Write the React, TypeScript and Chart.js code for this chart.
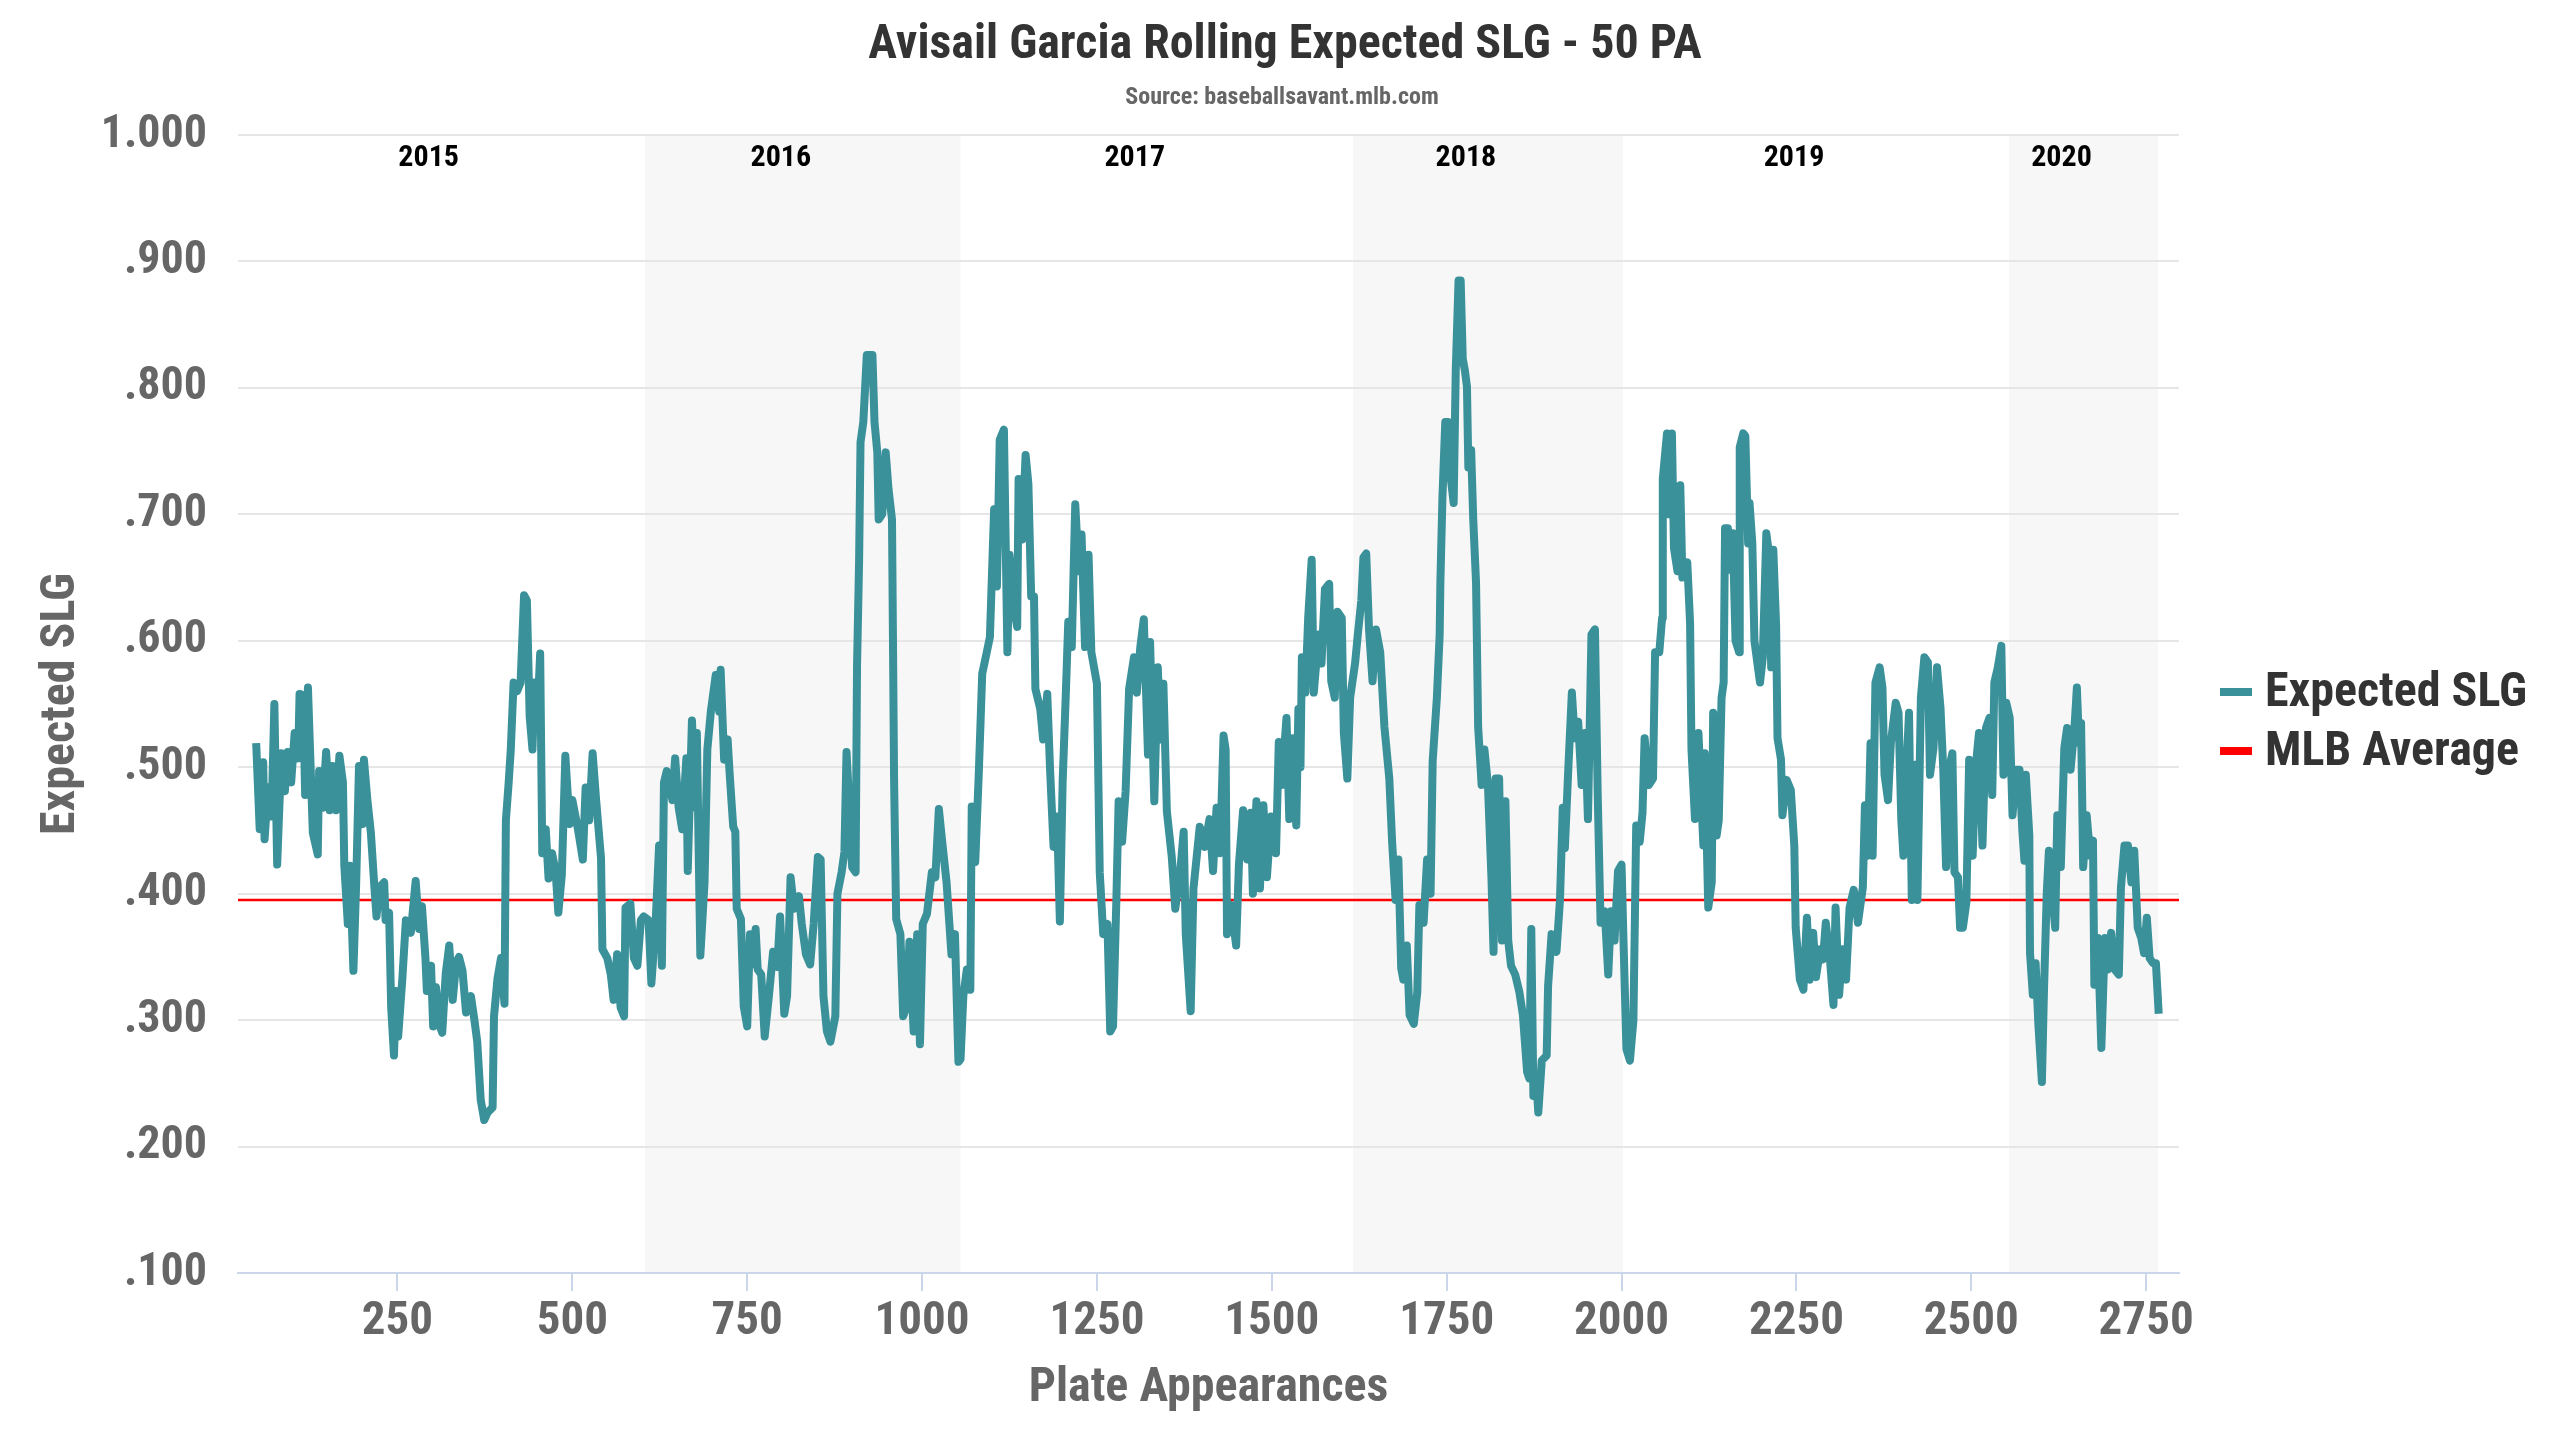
import React, { useEffect, useRef } from 'react';
import { Chart, registerables } from 'chart.js';

Chart.register(...registerables);

// Rolling 50 PA expected SLG, split by season
const pa2015 = [48, 53, 58, 60, 65, 70, 74, 78, 84, 89, 93, 98, 103, 108, 110, 115, 118, 122, 129, 136, 138, 143, 148, 153, 157, 162, 167, 172, 174, 179, 182, 187, 191, 195, 200, 202, 207, 212, 217, 220, 224, 231, 233, 238, 241, 245, 248, 251, 257, 262, 269, 276, 281, 285, 290, 292, 298, 301, 305, 310, 314, 319, 324, 329, 334, 338, 343, 348, 355, 360, 364, 369, 374, 379, 386, 388, 393, 398, 403, 405, 409, 412, 416, 421, 426, 431, 435, 439, 443, 446, 450, 454, 457, 462, 466, 471, 476, 480, 485, 490, 496, 500, 508, 515, 519, 524, 529, 534, 541, 543, 550, 555, 559, 564, 569, 574, 576, 583, 588, 593, 598, 602];
const xslg2015 = [0.519, 0.451, 0.504, 0.443, 0.484, 0.461, 0.55, 0.423, 0.511, 0.481, 0.512, 0.488, 0.527, 0.507, 0.558, 0.557, 0.478, 0.563, 0.448, 0.431, 0.497, 0.468, 0.512, 0.466, 0.501, 0.466, 0.509, 0.488, 0.422, 0.376, 0.422, 0.339, 0.409, 0.501, 0.455, 0.506, 0.474, 0.448, 0.405, 0.382, 0.405, 0.409, 0.379, 0.385, 0.31, 0.272, 0.323, 0.287, 0.333, 0.379, 0.369, 0.41, 0.372, 0.39, 0.349, 0.323, 0.343, 0.295, 0.326, 0.296, 0.29, 0.337, 0.359, 0.316, 0.346, 0.35, 0.339, 0.306, 0.319, 0.3, 0.283, 0.237, 0.221, 0.227, 0.231, 0.303, 0.333, 0.349, 0.313, 0.458, 0.488, 0.514, 0.567, 0.56, 0.567, 0.636, 0.632, 0.54, 0.514, 0.567, 0.54, 0.59, 0.432, 0.451, 0.412, 0.432, 0.418, 0.385, 0.415, 0.509, 0.455, 0.474, 0.451, 0.427, 0.484, 0.458, 0.511, 0.474, 0.428, 0.356, 0.349, 0.336, 0.316, 0.352, 0.31, 0.303, 0.389, 0.392, 0.349, 0.343, 0.379, 0.382];

const pa2016 = [609, 613, 619, 624, 628, 631, 635, 643, 647, 652, 657, 663, 665, 671, 676, 678, 683, 689, 693, 698, 705, 710, 712, 717, 722, 725, 730, 733, 735, 741, 745, 750, 754, 757, 762, 765, 770, 775, 781, 787, 793, 797, 803, 807, 812, 817, 824, 828, 834, 840, 845, 851, 855, 859, 864, 869, 876, 879, 885, 889, 892, 896, 900, 905, 907, 910, 912, 916, 921, 929, 932, 936, 938, 943, 948, 952, 957, 960, 963, 969, 973, 978, 982, 988, 993, 997, 1001, 1007, 1014, 1019, 1024, 1028, 1035, 1042, 1047, 1052];
const xslg2016 = [0.379, 0.329, 0.376, 0.438, 0.343, 0.488, 0.497, 0.474, 0.507, 0.468, 0.451, 0.507, 0.418, 0.537, 0.468, 0.527, 0.351, 0.409, 0.514, 0.544, 0.573, 0.544, 0.577, 0.506, 0.522, 0.494, 0.453, 0.449, 0.388, 0.38, 0.311, 0.295, 0.368, 0.344, 0.372, 0.34, 0.336, 0.287, 0.319, 0.354, 0.342, 0.382, 0.305, 0.319, 0.413, 0.388, 0.398, 0.376, 0.352, 0.344, 0.376, 0.429, 0.427, 0.319, 0.291, 0.283, 0.303, 0.4, 0.417, 0.433, 0.512, 0.469, 0.421, 0.417, 0.579, 0.664, 0.757, 0.773, 0.826, 0.826, 0.773, 0.749, 0.696, 0.7, 0.749, 0.72, 0.696, 0.489, 0.38, 0.368, 0.303, 0.311, 0.362, 0.291, 0.368, 0.281, 0.376, 0.384, 0.417, 0.413, 0.467, 0.445, 0.409, 0.352, 0.368, 0.267];

const pa2017 = [1055, 1059, 1064, 1069, 1071, 1076, 1081, 1086, 1091, 1097, 1103, 1107, 1111, 1117, 1122, 1125, 1131, 1136, 1138, 1143, 1148, 1152, 1156, 1160, 1162, 1169, 1173, 1179, 1183, 1188, 1193, 1197, 1201, 1205, 1209, 1214, 1219, 1224, 1228, 1233, 1238, 1242, 1250, 1254, 1259, 1265, 1269, 1273, 1278, 1281, 1286, 1291, 1296, 1303, 1307, 1312, 1317, 1323, 1326, 1332, 1337, 1341, 1345, 1350, 1357, 1362, 1369, 1374, 1377, 1384, 1388, 1397, 1404, 1411, 1416, 1421, 1426, 1431, 1434, 1436, 1442, 1449, 1453, 1459, 1465, 1470, 1473, 1478, 1483, 1488, 1493, 1499, 1506, 1510, 1514, 1521, 1525, 1530, 1535, 1538, 1541, 1543, 1548, 1552, 1557, 1560, 1567, 1571, 1576, 1582, 1585, 1590, 1594, 1600, 1603, 1608, 1612];
const xslg2017 = [0.269, 0.319, 0.34, 0.324, 0.469, 0.425, 0.494, 0.574, 0.587, 0.603, 0.704, 0.643, 0.759, 0.767, 0.591, 0.668, 0.627, 0.611, 0.728, 0.68, 0.747, 0.724, 0.635, 0.635, 0.562, 0.546, 0.522, 0.558, 0.498, 0.437, 0.461, 0.378, 0.489, 0.55, 0.615, 0.595, 0.708, 0.655, 0.684, 0.595, 0.668, 0.591, 0.566, 0.417, 0.368, 0.376, 0.291, 0.295, 0.4, 0.473, 0.441, 0.481, 0.562, 0.587, 0.559, 0.595, 0.617, 0.51, 0.599, 0.473, 0.579, 0.522, 0.566, 0.465, 0.429, 0.388, 0.417, 0.449, 0.368, 0.307, 0.404, 0.453, 0.437, 0.459, 0.418, 0.468, 0.432, 0.525, 0.514, 0.368, 0.391, 0.359, 0.423, 0.466, 0.427, 0.464, 0.4, 0.473, 0.404, 0.47, 0.413, 0.461, 0.432, 0.52, 0.486, 0.539, 0.459, 0.523, 0.454, 0.546, 0.5, 0.587, 0.559, 0.618, 0.664, 0.559, 0.605, 0.582, 0.641, 0.645, 0.568, 0.555, 0.623, 0.618, 0.527, 0.491, 0.555];

const pa2018 = [1619, 1623, 1628, 1631, 1635, 1639, 1644, 1649, 1655, 1661, 1668, 1672, 1677, 1681, 1685, 1688, 1693, 1697, 1703, 1708, 1711, 1717, 1722, 1727, 1730, 1736, 1740, 1741, 1744, 1748, 1752, 1756, 1760, 1763, 1767, 1770, 1773, 1776, 1779, 1781, 1785, 1788, 1792, 1795, 1800, 1804, 1809, 1814, 1817, 1820, 1825, 1829, 1834, 1838, 1842, 1848, 1854, 1859, 1865, 1868, 1871, 1874, 1878, 1881, 1886, 1893, 1895, 1900, 1907, 1912, 1916, 1919, 1924, 1929, 1933, 1938, 1943, 1948, 1952, 1957, 1962, 1966, 1970, 1976, 1981, 1985, 1990, 1995, 2000];
const xslg2018 = [0.582, 0.605, 0.632, 0.666, 0.669, 0.609, 0.568, 0.609, 0.591, 0.532, 0.491, 0.441, 0.395, 0.427, 0.341, 0.332, 0.359, 0.304, 0.297, 0.322, 0.391, 0.377, 0.427, 0.4, 0.505, 0.555, 0.605, 0.646, 0.714, 0.773, 0.773, 0.728, 0.709, 0.814, 0.885, 0.885, 0.823, 0.814, 0.801, 0.737, 0.751, 0.696, 0.646, 0.532, 0.486, 0.514, 0.486, 0.413, 0.354, 0.491, 0.491, 0.363, 0.473, 0.363, 0.343, 0.336, 0.322, 0.304, 0.259, 0.254, 0.372, 0.24, 0.254, 0.227, 0.268, 0.272, 0.327, 0.368, 0.354, 0.395, 0.468, 0.436, 0.5, 0.559, 0.523, 0.536, 0.486, 0.527, 0.459, 0.605, 0.609, 0.477, 0.377, 0.386, 0.336, 0.386, 0.363, 0.418, 0.423];

const pa2019 = [2003, 2007, 2012, 2017, 2021, 2026, 2030, 2033, 2039, 2045, 2048, 2054, 2058, 2059, 2065, 2068, 2072, 2075, 2080, 2084, 2087, 2094, 2098, 2100, 2105, 2110, 2117, 2119, 2124, 2129, 2131, 2136, 2139, 2143, 2146, 2148, 2152, 2156, 2159, 2163, 2168, 2169, 2174, 2177, 2181, 2183, 2187, 2190, 2195, 2198, 2202, 2207, 2211, 2214, 2217, 2221, 2223, 2228, 2230, 2236, 2242, 2247, 2249, 2255, 2260, 2265, 2269, 2274, 2278, 2284, 2288, 2292, 2298, 2303, 2306, 2311, 2316, 2321, 2326, 2332, 2338, 2345, 2348, 2352, 2356, 2359, 2363, 2369, 2373, 2376, 2381, 2385, 2392, 2396, 2400, 2403, 2407, 2411, 2415, 2420, 2423, 2428, 2433, 2438, 2441, 2446, 2451, 2456, 2460, 2464, 2468, 2473, 2476, 2481, 2484, 2488, 2493, 2497, 2502, 2506, 2511, 2516, 2521, 2526, 2530, 2533, 2538, 2543, 2546, 2550];
const xslg2019 = [0.359, 0.277, 0.268, 0.3, 0.454, 0.441, 0.464, 0.523, 0.486, 0.491, 0.591, 0.591, 0.618, 0.728, 0.764, 0.7, 0.764, 0.673, 0.655, 0.723, 0.65, 0.662, 0.614, 0.514, 0.459, 0.527, 0.438, 0.511, 0.389, 0.409, 0.543, 0.446, 0.458, 0.555, 0.567, 0.689, 0.689, 0.656, 0.685, 0.6, 0.591, 0.753, 0.764, 0.762, 0.677, 0.709, 0.677, 0.6, 0.579, 0.567, 0.587, 0.685, 0.668, 0.579, 0.672, 0.612, 0.523, 0.506, 0.462, 0.49, 0.482, 0.438, 0.373, 0.332, 0.324, 0.381, 0.332, 0.369, 0.334, 0.356, 0.348, 0.377, 0.348, 0.312, 0.389, 0.32, 0.356, 0.332, 0.389, 0.403, 0.377, 0.405, 0.47, 0.43, 0.519, 0.43, 0.567, 0.579, 0.563, 0.494, 0.474, 0.519, 0.551, 0.543, 0.458, 0.43, 0.494, 0.543, 0.395, 0.502, 0.395, 0.555, 0.587, 0.583, 0.494, 0.515, 0.579, 0.547, 0.498, 0.421, 0.498, 0.511, 0.417, 0.413, 0.373, 0.373, 0.393, 0.506, 0.43, 0.498, 0.527, 0.438, 0.531, 0.539, 0.478, 0.567, 0.579, 0.596, 0.494, 0.551];

const pa2020 = [2555, 2559, 2564, 2569, 2573, 2576, 2578, 2583, 2584, 2588, 2592, 2596, 2601, 2604, 2608, 2611, 2615, 2620, 2623, 2628, 2633, 2637, 2642, 2648, 2651, 2654, 2657, 2660, 2665, 2670, 2674, 2676, 2681, 2686, 2691, 2695, 2700, 2705, 2711, 2714, 2719, 2724, 2729, 2733, 2738, 2743, 2747, 2751, 2755, 2760, 2764, 2768];
const xslg2020 = [0.539, 0.462, 0.498, 0.498, 0.45, 0.426, 0.494, 0.446, 0.353, 0.32, 0.345, 0.296, 0.251, 0.324, 0.401, 0.434, 0.405, 0.373, 0.462, 0.421, 0.515, 0.531, 0.498, 0.535, 0.563, 0.519, 0.535, 0.421, 0.462, 0.43, 0.442, 0.328, 0.365, 0.278, 0.365, 0.34, 0.369, 0.34, 0.336, 0.405, 0.438, 0.438, 0.409, 0.434, 0.373, 0.365, 0.353, 0.381, 0.349, 0.345, 0.345, 0.305];

const seasons = ['2015', '2016', '2017', '2018', '2019', '2020'];
const seasonStartPa = [48, 604, 1055, 1616, 2002, 2554];
const seasonEndPa = [604, 1055, 1616, 2002, 2554, 2767];

const mlbAverage = 0.395;
const xMin = 22;
const xMax = 2797;
const xTickValues = [250, 500, 750, 1000, 1250, 1500, 1750, 2000, 2250, 2500, 2750];
const yTickValues = [0.1, 0.2, 0.3, 0.4, 0.5, 0.6, 0.7, 0.8, 0.9, 1.0];

const titleText = 'Avisail Garcia Rolling Expected SLG - 50 PA';
const subtitleText = 'Source: baseballsavant.mlb.com';

const FONT = "'Roboto Condensed', 'Liberation Sans Narrow', 'DejaVu Sans Condensed', sans-serif";
const TEAL = '#3a919a';
const RED = '#ff0000';

const allPa = [...pa2015, ...pa2016, ...pa2017, ...pa2018, ...pa2019, ...pa2020];
const allXslg = [...xslg2015, ...xslg2016, ...xslg2017, ...xslg2018, ...xslg2019, ...xslg2020];

// shaded seasons + year labels
const seasonBands = {
  id: 'seasonBands',
  beforeDraw(chart: any) {
    const { ctx, chartArea, scales } = chart;
    const x = scales.x;
    ctx.save();
    ctx.fillStyle = '#f7f7f7';
    seasons.forEach((_, i) => {
      if (i % 2 === 1) {
        const x0 = x.getPixelForValue(seasonStartPa[i]);
        const x1 = x.getPixelForValue(seasonEndPa[i]);
        ctx.fillRect(x0, chartArea.top, x1 - x0, chartArea.bottom - chartArea.top);
      }
    });
    ctx.restore();
  },
  afterDraw(chart: any) {
    const { ctx, chartArea, scales } = chart;
    const x = scales.x;
    ctx.save();
    ctx.font = `bold 30px ${FONT}`;
    ctx.fillStyle = '#000000';
    ctx.textAlign = 'center';
    ctx.textBaseline = 'middle';
    seasons.forEach((label, i) => {
      const mid = (x.getPixelForValue(seasonStartPa[i]) + x.getPixelForValue(seasonEndPa[i])) / 2;
      ctx.fillText(label, mid - 22, chartArea.top + 23);
    });
    ctx.restore();
  },
};

// title centred on the whole canvas, legend at the right
const headerAndLegend = {
  id: 'headerAndLegend',
  afterDraw(chart: any) {
    const { ctx, chartArea, width } = chart;
    ctx.save();
    ctx.textAlign = 'center';
    ctx.textBaseline = 'middle';
    ctx.fillStyle = '#333333';
    ctx.font = `bold 48px ${FONT}`;
    ctx.fillText(titleText, width / 2 + 5, 46);
    ctx.fillStyle = '#666666';
    ctx.font = `bold 24px ${FONT}`;
    ctx.fillText(subtitleText, width / 2 + 2, 98);

    const left = chartArea.right + 41;
    const rows = [
      { text: 'Expected SLG', color: TEAL, y: 692 },
      { text: 'MLB Average', color: RED, y: 751 },
    ];
    ctx.font = `bold 48px ${FONT}`;
    ctx.textAlign = 'left';
    rows.forEach((r) => {
      ctx.fillStyle = r.color;
      ctx.fillRect(left, r.y - 4, 32, 8);
      ctx.fillStyle = '#333333';
      ctx.fillText(r.text, left + 45, r.y + 2);
    });
    ctx.restore();
  },
};

const App: React.FC = () => {
  const canvasRef = useRef<HTMLCanvasElement>(null);
  const chartRef = useRef<Chart | null>(null);

  useEffect(() => {
    if (!canvasRef.current) return;
    if (chartRef.current) chartRef.current.destroy();

    chartRef.current = new Chart(canvasRef.current, {
      type: 'line',
      data: {
        datasets: [
          {
            label: 'Expected SLG',
            data: allPa.map((pa, i) => ({ x: pa, y: allXslg[i] })),
            borderColor: TEAL,
            borderWidth: 8,
            borderJoinStyle: 'round',
            pointRadius: 0,
            fill: false,
          },
          {
            label: 'MLB Average',
            data: [
              { x: xMin, y: mlbAverage },
              { x: xMax, y: mlbAverage },
            ],
            borderColor: RED,
            borderWidth: 2.5,
            pointRadius: 0,
            fill: false,
          },
        ],
      },
      options: {
        responsive: false,
        animation: false,
        devicePixelRatio: 1,
        layout: { padding: { left: 0, right: 381, top: 135, bottom: 0 } },
        plugins: {
          legend: { display: false },
          tooltip: { enabled: false },
          title: { display: false },
        },
        scales: {
          x: {
            type: 'linear',
            min: xMin,
            max: xMax,
            afterFit: (scale: any) => {
              scale.height = 167;
            },
            afterBuildTicks: (scale: any) => {
              scale.ticks = xTickValues.map((value) => ({ value }));
            },
            ticks: {
              color: '#666666',
              font: { family: FONT, size: 47, weight: 'bold' },
              padding: 3,
              maxRotation: 0,
              autoSkip: false,
              callback: (v: any) => String(v),
            },
            grid: {
              drawOnChartArea: false,
              drawTicks: true,
              tickLength: 18,
              color: '#ccd6eb',
              lineWidth: 2,
            },
            border: { display: true, color: '#ccd6eb', width: 2 },
            title: {
              display: true,
              text: 'Plate Appearances',
              color: '#666666',
              font: { family: FONT, size: 48, weight: 'bold' },
              padding: { top: 0, bottom: 22 },
            },
          },
          y: {
            type: 'linear',
            min: 0.1,
            max: 1.0,
            afterFit: (scale: any) => {
              scale.width = 238;
            },
            afterBuildTicks: (scale: any) => {
              scale.ticks = yTickValues.map((value) => ({ value }));
            },
            ticks: {
              color: '#666666',
              font: { family: FONT, size: 46, weight: 'bold' },
              padding: 31,
              callback: (v: any) => Number(v).toFixed(3).replace(/^0/, ''),
            },
            grid: {
              drawTicks: false,
              color: '#e6e6e6',
              lineWidth: 2,
            },
            border: { display: false },
            title: {
              display: true,
              text: 'Expected SLG',
              color: '#666666',
              font: { family: FONT, size: 48, weight: 'bold' },
              padding: { top: 33, bottom: 0 },
            },
          },
        },
      },
      plugins: [seasonBands, headerAndLegend],
    });

    return () => {
      if (chartRef.current) {
        chartRef.current.destroy();
        chartRef.current = null;
      }
    };
  }, []);

  return (
    <div style={{ position: 'fixed', left: 0, top: 0, width: 2560, height: 1440, background: '#ffffff' }}>
      <canvas ref={canvasRef} width={2560} height={1440} style={{ width: 2560, height: 1440 }} />
    </div>
  );
};

export default App;
